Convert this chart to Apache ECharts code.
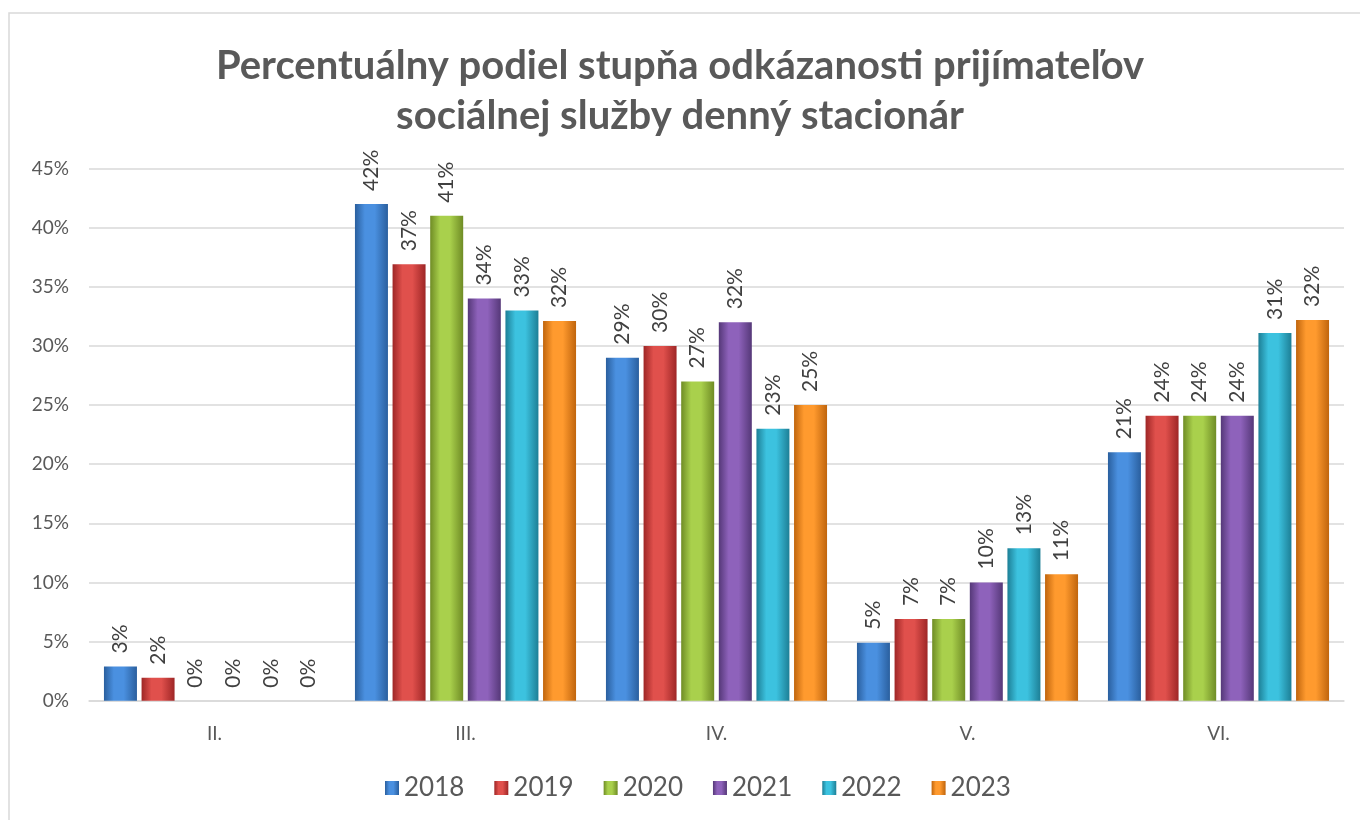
<!DOCTYPE html>
<html>
<head>
<meta charset="utf-8">
<script src="https://cdn.jsdelivr.net/npm/echarts@6/dist/echarts.min.js"></script>
<style>
  html, body { margin: 0; padding: 0; background: #fff; }
  #chart { width: 1360px; height: 820px; }
</style>
</head>
<body>
<div id="chart"></div>
<script>
// categories and yearly series (percent)
const categories = ['II.', 'III.', 'IV.', 'V.', 'VI.']
const years = ['2018', '2019', '2020', '2021', '2022', '2023']
const v2018 = [2.9, 42.0, 29.0, 4.9, 21.0]
const v2019 = [1.95, 36.9, 30.0, 6.9, 24.1]
const v2020 = [0, 41.0, 27.0, 6.9, 24.1]
const v2021 = [0, 34.0, 32.0, 10.0, 24.1]
const v2022 = [0, 33.0, 23.0, 12.9, 31.1]
const v2023 = [0, 32.1, 25.0, 10.7, 32.2]
const yTicks = [0, 5, 10, 15, 20, 25, 30, 35, 40, 45]

const palette = [
  ['#2a5f9e', '#4a90e0'],
  ['#9e2626', '#e0504c'],
  ['#6f8c25', '#a9d04c'],
  ['#553878', '#8e62bb'],
  ['#1d7f96', '#3cc2df'],
  ['#c0650d', '#ff9a2e']
]

const font = 'Lato, "Open Sans", sans-serif'
const textColor = '#595959'

function barColor(i) {
  const [dark, light] = palette[i]
  return new echarts.graphic.LinearGradient(0, 0, 1, 0, [
    {offset: 0, color: dark},
    {offset: 0.3, color: light},
    {offset: 0.6, color: light},
    {offset: 1, color: dark}
  ])
}

const seriesValues = [v2018, v2019, v2020, v2021, v2022, v2023]

const chart = echarts.init(document.getElementById('chart'))
chart.setOption({
  backgroundColor: '#fff',
  animation: false,
  title: {
    text: 'Percentuálny podiel stupňa odkázanosti prijímateľov\nsociálnej služby denný stacionár',
    left: 'center',
    top: 36,
    textStyle: {
      fontFamily: font,
      fontWeight: 'bold',
      fontSize: 40,
      lineHeight: 50,
      color: textColor
    }
  },
  graphic: [{
    type: 'rect',
    shape: {x: 9, y: 13, width: 1400, height: 900},
    style: {fill: 'none', stroke: '#d9d9d9', lineWidth: 1.5},
    silent: true
  }],
  legend: {
    data: years,
    bottom: 14,
    left: 380,
    icon: 'rect',
    itemWidth: 14,
    itemHeight: 14,
    itemGap: 30,
    textStyle: {fontFamily: font, fontSize: 26, color: textColor}
  },
  grid: {left: 89, right: 16, top: 168.5, bottom: 119.3},
  xAxis: {
    type: 'category',
    data: categories,
    axisTick: {show: false},
    axisLine: {lineStyle: {color: '#d9d9d9', width: 1.5}},
    axisLabel: {fontFamily: font, fontSize: 19, color: textColor, margin: 24}
  },
  yAxis: {
    type: 'value',
    min: yTicks[0],
    max: yTicks[yTicks.length - 1],
    interval: 5,
    axisLine: {show: false},
    axisTick: {show: false},
    splitLine: {lineStyle: {color: '#d9d9d9', width: 1.5}},
    axisLabel: {
      fontFamily: font, fontSize: 19, color: textColor, margin: 20,
      formatter: v => v + '%'
    }
  },
  series: years.map((y, i) => ({
    name: y,
    type: 'bar',
    data: seriesValues[i],
    barWidth: 33,
    barGap: '14%',
    itemStyle: {color: barColor(i)},
    label: {
      show: true,
      position: 'top',
      rotate: 90,
      align: 'left',
      verticalAlign: 'middle',
      distance: 13,
      fontFamily: font,
      fontSize: 21,
      color: '#404040',
      formatter: p => Math.round(p.value) + '%'
    }
  }))
})
</script>
</body>
</html>
